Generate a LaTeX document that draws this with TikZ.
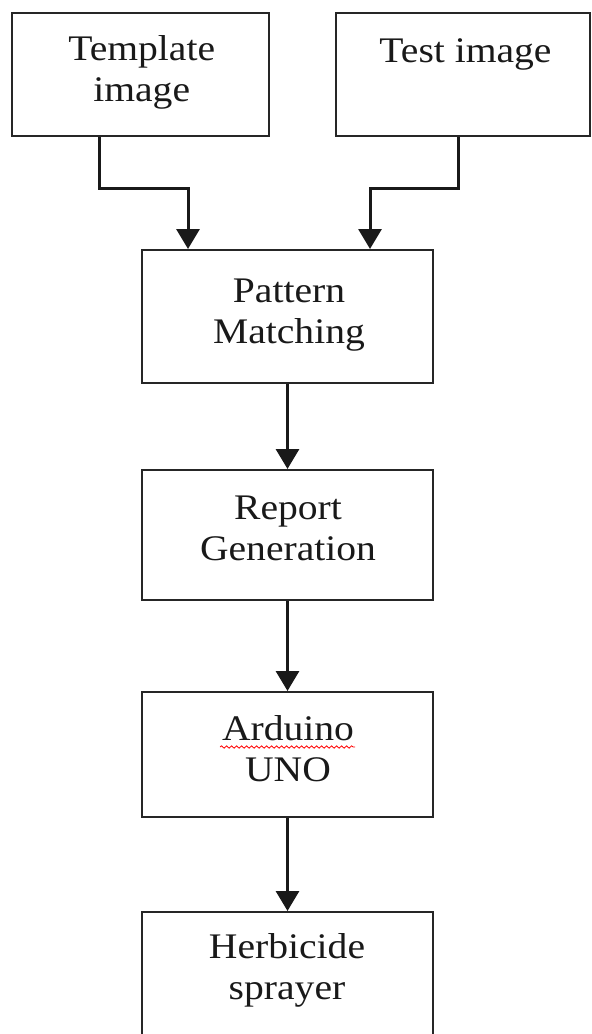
\documentclass[tikz,border=0pt]{standalone}
\usepackage{fontspec}
\setmainfont[FakeStretch=1.1]{Liberation Serif}
\usetikzlibrary{arrows.meta,decorations.pathmorphing}
\tikzset{
  box/.style={draw=black!85, line width=2pt, rectangle, inner sep=0pt},
  txt/.style={align=center, anchor=base, inner sep=0pt, text=black!90,
              font={\fontsize{36}{40.5}\selectfont}},
  arr/.style={line width=3pt, black!90, -{Triangle[width=23pt,length=20pt]}},
  squiggle/.style={red, line width=0.8pt, decorate,
                   decoration={snake, amplitude=1.2pt, segment length=5pt}}
}
\begin{document}
\begin{tikzpicture}[x=1pt,y=-1pt]
\useasboundingbox (0,0) rectangle (592,1034);
\clip (0,0) rectangle (592,1034);
% boxes
\node[box, minimum width=257pt, minimum height=123pt] (tmpl) at (140.5,74.5) {};
\node[box, minimum width=254pt, minimum height=123pt] (test) at (463,74.5) {};
\node[box, minimum width=291pt, minimum height=133pt] (pm) at (287.5,316.5) {};
\node[box, minimum width=291pt, minimum height=130pt] (rg) at (287.5,535) {};
\node[box, minimum width=291pt, minimum height=125pt] (ard) at (287.5,754.5) {};
\node[box, minimum width=291pt, minimum height=148pt] (herb) at (287.5,986) {};
% texts (anchor = baseline of the last line)
\node[txt] (tmplT) at (141.7,101) {Template\\image};
\node[txt] (testT) at (465.5,62) {Test image};
\node[txt] (pmT) at (289,343) {Pattern\\Matching};
\node[txt] (rgT) at (288,560) {Report\\Generation};
\node[txt] (ardT) at (288,781) {Arduino\\UNO};
\node[txt] (herbT) at (287,999) {Herbicide\\sprayer};
% spell-check underline
\coordinate (sqA) at (220,747);
\coordinate (sqB) at (355,747);
\draw[squiggle] (sqA) -- (sqB);
% connectors
\coordinate (tA) at (99,0);
\coordinate (sA) at (458,0);
\coordinate (pA) at (188,0);
\coordinate (pB) at (370,0);
\coordinate (elbowY) at (0,188);
\draw[arr] (tmpl.south -| tA) |- (elbowY -| pA) -- (pm.north -| pA);
\draw[arr] (test.south -| sA) |- (elbowY -| pB) -- (pm.north -| pB);
\draw[arr] (pm.south) -- (rg.north);
\draw[arr] (rg.south) -- (ard.north);
\draw[arr] (ard.south) -- (herb.north);
\end{tikzpicture}
\end{document}
